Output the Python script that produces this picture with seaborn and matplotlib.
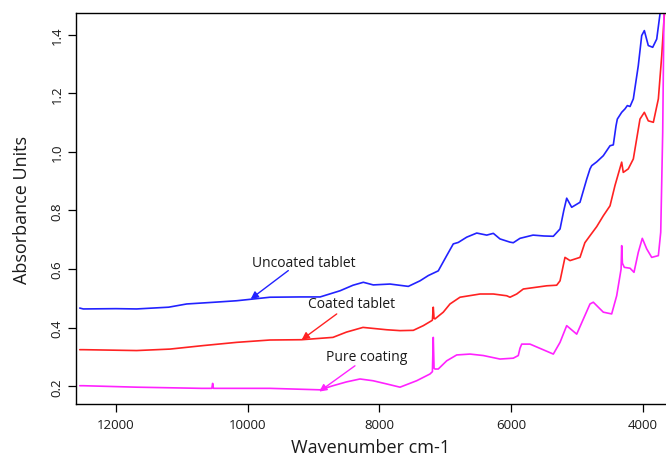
import numpy as np
import pandas as pd
import matplotlib
matplotlib.use("Agg")
import matplotlib.pyplot as plt
import seaborn as sns

# ---- data ----
uncoated_wn = [12550, 12497, 12000, 11686, 11200, 10926, 10500, 10167, 9661, 9200, 8900,
               8598, 8400, 8244, 8093, 7839, 7561, 7383, 7257, 7106, 6978, 6878, 6802,
               6674, 6522, 6370, 6270, 6169, 6017, 5967, 5865, 5667, 5500, 5359, 5257,
               5200, 5156, 5080, 4954, 4852, 4802, 4776, 4700, 4600, 4498, 4448, 4407, 4387, 4321,
               4270, 4235, 4194, 4144, 4069, 4017, 3977, 3917, 3850, 3789, 3739, 3700]
uncoated_abs = [0.467, 0.464, 0.465, 0.464, 0.470, 0.481, 0.487, 0.492, 0.504, 0.505, 0.505,
                0.526, 0.545, 0.555, 0.546, 0.549, 0.541, 0.560, 0.578, 0.594, 0.646, 0.686, 0.691,
                0.709, 0.723, 0.716, 0.722, 0.703, 0.692, 0.690, 0.705, 0.716, 0.713, 0.712, 0.737,
                0.800, 0.842, 0.811, 0.828, 0.907, 0.942, 0.953, 0.966, 0.987, 1.021, 1.024, 1.089, 1.112, 1.135,
                1.147, 1.158, 1.155, 1.181, 1.294, 1.397, 1.414, 1.363, 1.357, 1.385, 1.471, 1.560]

coated_wn = [12550, 12497, 11686, 11180, 10674, 10167, 9661, 9180, 8705, 8500, 8249, 7889,
             7687, 7485, 7333, 7206, 7195, 7182, 7170, 7156, 7030, 6928, 6776, 6472, 6270,
             6067, 6017, 5915, 5815, 5459, 5308, 5257, 5182, 5106, 4954, 4880, 4802, 4700, 4600, 4498,
             4423, 4321, 4297, 4221, 4144, 4043, 3977, 3917, 3840, 3764, 3713, 3678, 3660]
coated_abs = [0.325, 0.325, 0.322, 0.327, 0.339, 0.350, 0.358, 0.359, 0.367, 0.385, 0.401, 0.393,
              0.390, 0.391, 0.407, 0.424, 0.426, 0.470, 0.432, 0.430, 0.453, 0.481, 0.504, 0.515, 0.515,
              0.509, 0.504, 0.515, 0.532, 0.543, 0.545, 0.560, 0.640, 0.629, 0.640, 0.690, 0.714, 0.745, 0.782, 0.816,
              0.885, 0.965, 0.930, 0.942, 0.976, 1.112, 1.135, 1.106, 1.101, 1.181, 1.328, 1.454, 1.500]

pure_wn = [12550, 12497, 11686, 10700, 10545, 10532, 10520, 9661, 8902, 8705, 8500, 8295,
           8097, 7889, 7687, 7434, 7232, 7195, 7182, 7170, 7156, 7106, 6978, 6826, 6624,
           6422, 6169, 5967, 5891, 5865, 5839, 5713, 5359, 5257, 5156, 5004, 4802, 4752,
           4600, 4473, 4397, 4330, 4321, 4310, 4281, 4194, 4134, 4069, 4008, 3941, 3865,
           3764, 3728, 3698, 3678]
pure_abs = [0.202, 0.202, 0.197, 0.193, 0.193, 0.210, 0.193, 0.193, 0.188, 0.202, 0.215, 0.225,
            0.219, 0.208, 0.197, 0.219, 0.242, 0.250, 0.367, 0.262, 0.259, 0.259, 0.287, 0.307, 0.310,
            0.305, 0.293, 0.296, 0.305, 0.330, 0.344, 0.344, 0.310, 0.350, 0.407, 0.378, 0.481, 0.487,
            0.453, 0.447, 0.509, 0.600, 0.680, 0.620, 0.606, 0.603, 0.589, 0.657, 0.705, 0.669, 0.640,
            0.646, 0.726, 1.067, 1.500]

series_names = ["Uncoated tablet", "Coated tablet", "Pure coating"]
x_ticks = [12000, 10000, 8000, 6000, 4000]
y_ticks = [0.2, 0.4, 0.6, 0.8, 1.0, 1.2, 1.4]

# ---- style ----
sns.set_style("white")
plt.rcParams['font.family'] = ['Open Sans', 'DejaVu Sans']

fig = plt.figure(figsize=(6.66, 4.60), dpi=100)
ax = fig.add_axes([76/666, 1 - 405/460, 590/666, (405 - 14.3)/460])

colors = ["#2222ff", "#ff2222", "#ff22ff"]
for wn, ab, c in zip([uncoated_wn, coated_wn, pure_wn],
                     [uncoated_abs, coated_abs, pure_abs], colors):
    sns.lineplot(x=wn, y=ab, color=c, linewidth=1.2, sort=False,
                 estimator=None, ax=ax)

ax.set_xlim(12607, 3648)
ax.set_ylim(0.1396, 1.473)
ax.set_xticks(x_ticks)
ax.set_xticklabels([str(t) for t in x_ticks])
ax.set_yticks(y_ticks)
ax.set_yticklabels([f"{t:.1f}" for t in y_ticks], rotation=90, va="center")
ax.tick_params(axis="both", direction="out", length=6, width=0.9, labelsize=9.5,
               color="black", labelcolor="#1a1a1a", bottom=True, left=True)
ax.tick_params(axis="x", pad=4)
ax.tick_params(axis="y", pad=3)
for s in ["left", "bottom", "top"]:
    ax.spines[s].set_color("black")
    ax.spines[s].set_linewidth(1.0)
ax.spines["right"].set_visible(False)

ax.set_xlabel("Wavenumber cm-1", fontsize=13, color="#1a1a1a", labelpad=5)
ax.set_ylabel("Absorbance Units", fontsize=13, color="#1a1a1a", labelpad=14)

# annotations
ann = [
    (series_names[0], (9954, 0.498), (9383, 0.595), (9150, 0.621), colors[0]),
    (series_names[1], (9180, 0.359), (8648, 0.447), (8416, 0.481), colors[1]),
    (series_names[2], (8913, 0.182), (8371, 0.270), (8193, 0.302), colors[2]),
]
for text, tip, start, tpos, c in ann:
    ax.annotate("", xy=tip, xytext=start,
                arrowprops=dict(arrowstyle="-|>", color=c, lw=1.0,
                                mutation_scale=11, shrinkA=0, shrinkB=0))
    ax.text(tpos[0], tpos[1], text, ha="center", va="center", fontsize=10,
            color="#1a1a1a")

fig.savefig("out.png", dpi=100)
